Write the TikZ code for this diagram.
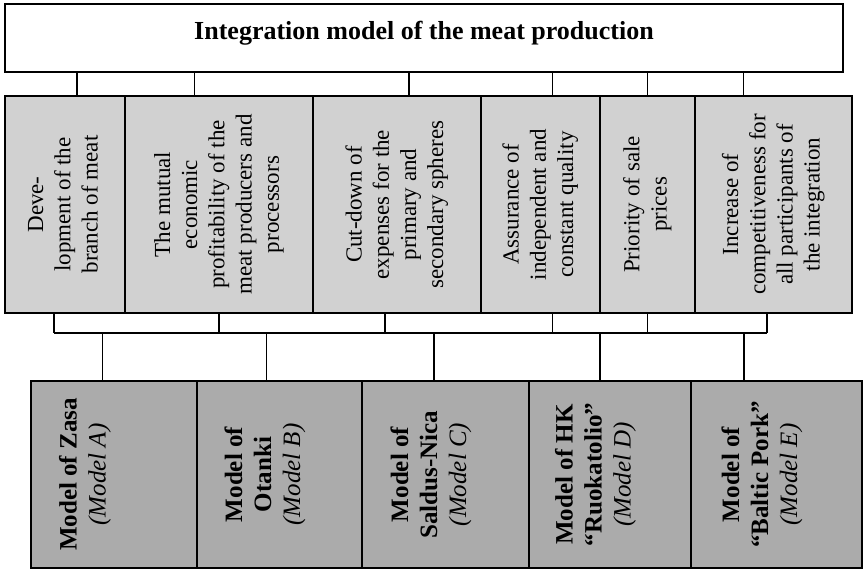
\documentclass[tikz,border=0pt]{standalone}
\usepackage{fontspec}
\setmainfont{Liberation Serif}
\usetikzlibrary{positioning,calc}
\tikzset{
  topbox/.style={draw, line width=0.9pt, fill=white, inner sep=0pt, outer sep=0pt,
    minimum width=419pt, minimum height=34pt, text depth=7.5pt,
    font=\fontsize{13}{15}\selectfont\bfseries},
  midbox/.style={draw, line width=0.8pt, fill=gray!36, inner sep=0pt, outer sep=0pt,
    minimum height=108.5pt, font=\fontsize{11.5}{13.6}\selectfont},
  modelbox/.style={draw, line width=0.8pt, fill=gray!66, inner sep=0pt, outer sep=0pt,
    minimum height=93.5pt, font=\fontsize{12.5}{14.5}\selectfont},
  link/.style={line width=0.8pt}
}
\newcommand{\midtext}[1]{\rotatebox{90}{\begin{tabular}{@{}c@{}}#1\end{tabular}}}
\newcommand{\modeltext}[2]{\rotatebox{90}{\parbox[c][55pt][t]{90pt}{\centering\textbf{#1}\\\textit{#2}}}}
\begin{document}
\begin{tikzpicture}[x=0.5pt,y=-0.5pt]
\useasboundingbox (0,0) rectangle (867,569);
% goal
\node (top) at (5,4)[topbox, anchor=north west]{Integration model of the meat production};
% aims of the integration
\node (m1) at (5,96)[midbox, anchor=north west, minimum width=60pt]{\midtext{Deve-\\lopment of the\\branch of meat}};
\node (m2) [midbox, minimum width=94pt, right=0pt of m1]{\midtext{The mutual\\economic\\profitability of the\\meat producers and\\processors}};
\node (m3) [midbox, minimum width=84pt, right=0pt of m2]{\midtext{Cut-down of\\expenses for the\\primary and\\secondary spheres}};
\node (m4) [midbox, minimum width=59.5pt, right=0pt of m3]{\midtext{Assurance of\\independent and\\constant quality}};
\node (m5) [midbox, minimum width=47.5pt, right=0pt of m4]{\midtext{Priority of sale\\prices}};
\node (m6) [midbox, minimum width=78.5pt, right=0pt of m5]{\midtext{Increase of\\competitiveness for\\all participants of\\the integration}};
% models
\node (b1) at (31,381)[modelbox, anchor=north west, minimum width=83pt]{\modeltext{Model of Zasa}{(Model A)}};
\node (b2) [modelbox, minimum width=82.5pt, right=0pt of b1]{\modeltext{Model of\\Otanki}{(Model B)}};
\node (b3) [modelbox, minimum width=83.5pt, right=0pt of b2]{\modeltext{Model of\\Saldus-Nica}{(Model C)}};
\node (b4) [modelbox, minimum width=81pt, right=0pt of b3]{\modeltext{Model of HK\\“Ruokatolio”}{(Model D)}};
\node (b5) [modelbox, minimum width=85.5pt, right=0pt of b4]{\modeltext{Model of\\“Baltic Pork”}{(Model E)}};
% connectors
\foreach \n/\f in {m1/.6, m2/.37, m3/.57, m4/.6, m5/.5, m6/.31}
{
    \draw[link] ($(\n.north west)!\f!(\n.north east)$) coordinate (u\n) -- (u\n |- top.south);
}
\coordinate (bus) at (0,333);
\foreach \n/\f in {m1/.41, m2/.5, m3/.43, m4/.6, m5/.5, m6/.46}
{
    \draw[link] ($(\n.south west)!\f!(\n.south east)$) coordinate (d\n) -- (d\n |- bus);
}
\draw[link] (dm1 |- bus) -- (dm6 |- bus);
\foreach \n/\f in {b1/.43, b2/.42, b3/.43, b4/.44, b5/.31}
{
    \draw[link] ($(\n.north west)!\f!(\n.north east)$) coordinate (u\n) -- (u\n |- bus);
}
\end{tikzpicture}
\end{document}
